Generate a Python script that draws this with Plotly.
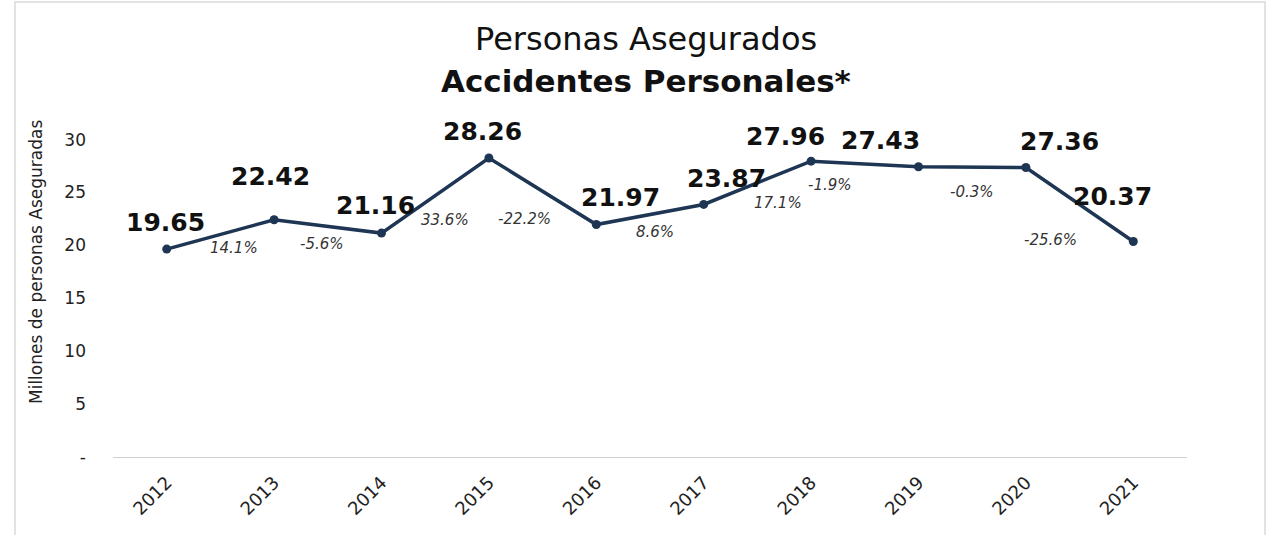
import plotly.graph_objects as go

years = ["2012", "2013", "2014", "2015", "2016", "2017", "2018", "2019", "2020", "2021"]
values = [19.65, 22.42, 21.16, 28.26, 21.97, 23.87, 27.96, 27.43, 27.36, 20.37]
value_labels = ["19.65", "22.42", "21.16", "28.26", "21.97", "23.87", "27.96", "27.43", "27.36", "20.37"]
pct_labels = ["14.1%", "-5.6%", "33.6%", "-22.2%", "8.6%", "17.1%", "-1.9%", "-0.3%", "-25.6%"]
y_ticks = [0, 5, 10, 15, 20, 25, 30]
y_ticktext = ["-", "5", "10", "15", "20", "25", "30"]

LINE = "#1E3553"
FONT = "'DejaVu Sans', sans-serif"

# label offsets (pixels) relative to the data point / segment midpoint
val_shift = [(-1, 27), (-4, 43), (-6, 28), (-6, 26), (24, 27), (23, 26), (-26, 25), (-38, 26), (34, 26), (-21, 45)]
pct_shift = [(14, -14), (-6, -18), (10, -24), (-18, -28), (5, -18), (21, -20), (-35, -21), (0, -25), (-29, -36)]

x_idx = list(range(len(years)))

fig = go.Figure()
fig.add_trace(go.Scatter(
    x=x_idx, y=values, mode="lines+markers",
    line=dict(color=LINE, width=3.5),
    marker=dict(color=LINE, size=9),
    showlegend=False, hoverinfo="skip",
))

annotations = []
for i, (v, t) in enumerate(zip(values, value_labels)):
    dx, dy = val_shift[i]
    annotations.append(dict(
        x=i, y=v, xref="x", yref="y", text=f"<b>{t}</b>", showarrow=False,
        xshift=dx, yshift=dy, font=dict(family=FONT, size=25, color="#111111"),
    ))
for i, t in enumerate(pct_labels):
    dx, dy = pct_shift[i]
    annotations.append(dict(
        x=i + 0.5, y=(values[i] + values[i + 1]) / 2, xref="x", yref="y",
        text=f"<i>{t}</i>", showarrow=False, xshift=dx, yshift=dy,
        font=dict(family=FONT, size=15, color="#333333"),
    ))

H = 535
top_px = 129
bot_px = 457
ph = bot_px - top_px

def ypaper(p):
    return (bot_px - p) / ph

L = 113
R = 1187
pw = R - L

def xpaper(p):
    return (p - L) / pw

annotations.append(dict(
    x=xpaper(646), y=ypaper(39), xref="paper", yref="paper",
    text="Personas Asegurados", showarrow=False, yanchor="middle",
    font=dict(family=FONT, size=32, color="#111111"),
))
annotations.append(dict(
    x=xpaper(646), y=ypaper(81), xref="paper", yref="paper",
    text="<b>Accidentes Personales*</b>", showarrow=False, yanchor="middle",
    font=dict(family=FONT, size=31, color="#111111"),
))
annotations.append(dict(
    x=xpaper(36), y=ypaper(262), xref="paper", yref="paper",
    text="Millones de personas Aseguradas", showarrow=False, textangle=-90,
    xanchor="center", yanchor="middle",
    font=dict(family=FONT, size=17, color="#222222"),
))

fig.update_layout(
    width=1281, height=535,
    margin=dict(l=L, r=1281 - R, t=top_px, b=H - bot_px, pad=0, autoexpand=False),
    paper_bgcolor="white", plot_bgcolor="white",
    annotations=annotations,
    shapes=[dict(type="rect", xref="paper", yref="paper",
                 x0=xpaper(15), x1=xpaper(1265), y0=ypaper(560), y1=ypaper(2),
                 line=dict(color="#d9d9d9", width=1.5), fillcolor="rgba(0,0,0,0)")],
    xaxis=dict(
        range=[-0.5, len(years) - 0.5], tickmode="array", tickvals=x_idx, ticktext=years,
        tickangle=-45, showgrid=False, zeroline=False, showline=True,
        linecolor="#d0d0d0", linewidth=1, ticks="", automargin=False,
        ticklabelstandoff=7,
        tickfont=dict(family=FONT, size=18, color="#222222"),
    ),
    yaxis=dict(
        range=[0, 31], tickvals=y_ticks, ticktext=y_ticktext, showgrid=False,
        zeroline=False, showline=False, ticks="", ticklabelstandoff=26, automargin=False,
        tickfont=dict(family=FONT, size=17, color="#222222"),
    ),
)

fig.write_html("out.html", config={"displayModeBar": False},
               post_script="document.body.style.margin='0px';")
